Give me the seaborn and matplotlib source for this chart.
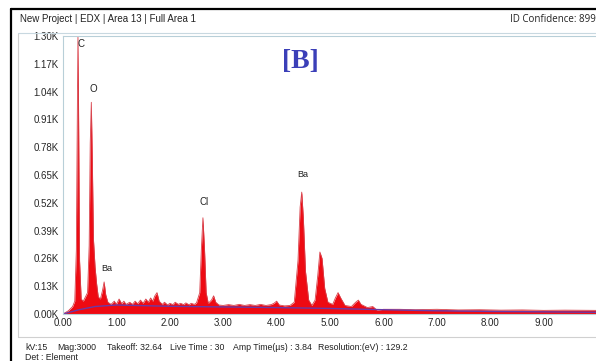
import numpy as np
import pandas as pd
import matplotlib
matplotlib.use('Agg')
import matplotlib.pyplot as plt
import seaborn as sns

# Spectrum: energy (keV) and counts (K)
energy = [0.00, 0.10, 0.18, 0.22, 0.25, 0.27, 0.28, 0.29, 0.31, 0.34, 0.38, 0.42,
          0.46, 0.49, 0.51, 0.53, 0.55, 0.57, 0.60, 0.63, 0.66, 0.70, 0.74, 0.77,
          0.80, 0.84, 0.90, 0.96, 1.00, 1.05, 1.10, 1.14, 1.18, 1.25, 1.30, 1.35,
          1.40, 1.45, 1.50, 1.55, 1.60, 1.64, 1.68, 1.72, 1.76, 1.80, 1.86, 1.90,
          1.96, 2.00, 2.06, 2.10, 2.16, 2.20, 2.26, 2.30, 2.36, 2.40, 2.46, 2.50,
          2.56, 2.59, 2.62, 2.65, 2.68, 2.72, 2.78, 2.82, 2.86, 2.92, 3.00, 3.10,
          3.20, 3.30, 3.40, 3.50, 3.60, 3.70, 3.80, 3.90, 3.95, 4.00, 4.05, 4.15,
          4.25, 4.33, 4.40, 4.44, 4.47, 4.50, 4.54, 4.60, 4.66, 4.72, 4.77, 4.81,
          4.85, 4.90, 4.96, 5.05, 5.10, 5.15, 5.20, 5.28, 5.40, 5.48, 5.53, 5.58,
          5.70, 5.80, 5.88, 6.00, 6.30, 6.60, 7.00, 7.40, 7.80, 8.20, 8.60, 9.00,
          9.40, 9.98]
counts = [0.000, 0.015, 0.035, 0.060, 0.300, 1.000, 1.300, 1.000, 0.250, 0.070, 0.060, 0.080,
          0.100, 0.320, 0.800, 0.990, 0.700, 0.350, 0.220, 0.140, 0.080, 0.070, 0.110, 0.150,
          0.090, 0.055, 0.045, 0.060, 0.045, 0.070, 0.048, 0.060, 0.045, 0.055, 0.045, 0.060,
          0.048, 0.065, 0.050, 0.070, 0.055, 0.075, 0.060, 0.085, 0.100, 0.060, 0.045, 0.055,
          0.042, 0.050, 0.044, 0.055, 0.045, 0.050, 0.044, 0.052, 0.043, 0.050, 0.045, 0.052,
          0.100, 0.300, 0.450, 0.300, 0.100, 0.050, 0.065, 0.085, 0.055, 0.042, 0.040, 0.044,
          0.040, 0.045, 0.040, 0.044, 0.040, 0.045, 0.040, 0.044, 0.050, 0.060, 0.042, 0.038,
          0.040, 0.055, 0.250, 0.500, 0.570, 0.450, 0.200, 0.065, 0.040, 0.065, 0.180, 0.290,
          0.260, 0.120, 0.055, 0.045, 0.075, 0.100, 0.075, 0.040, 0.035, 0.055, 0.065, 0.045,
          0.030, 0.035, 0.018, 0.022, 0.022, 0.020, 0.022, 0.019, 0.020, 0.018, 0.019, 0.017,
          0.018, 0.017]

# Background fit line
bg_energy = [0.0, 0.3, 0.6, 1.0, 2.0, 3.0, 4.0, 5.0, 6.0, 7.0, 8.0, 9.0, 9.98]
bg_counts = [0.000, 0.020, 0.035, 0.042, 0.036, 0.033, 0.030, 0.026, 0.020, 0.015, 0.012, 0.010, 0.008]

# Element labels
labels = ['C', 'O', 'Ba', 'Cl', 'Ba']
label_x = [0.33, 0.57, 0.81, 2.64, 4.49]
label_y = [1.24, 1.03, 0.19, 0.50, 0.63]
label_size = [7, 7, 6.5, 7, 6.5]

yticks = [0.00, 0.13, 0.26, 0.39, 0.52, 0.65, 0.78, 0.91, 1.04, 1.17, 1.30]
xticks = [0, 1, 2, 3, 4, 5, 6, 7, 8, 9]

# acquisition info along the bottom, with pixel x of each item
info_text = ['kV:15', 'Mag:3000', 'Takeoff: 32.64', 'Live Time : 30',
             'Amp Time(\u00b5s) : 3.84', 'Resolution:(eV) : 129.2']
info_x = [25, 57, 107, 170, 233, 318]

spec = pd.DataFrame({'energy': energy, 'counts': counts})
bg = pd.DataFrame({'energy': bg_energy, 'counts': bg_counts})

sns.set_style('white')
plt.rcParams['font.family'] = ['Liberation Sans Narrow', 'Liberation Sans', 'DejaVu Sans']

fig = plt.figure(figsize=(5.96, 3.61), dpi=100)

# panel borders
fig.add_artist(plt.Line2D([11/596, 11/596], [0, 1 - 9/361], color='black', lw=1.6))
fig.add_artist(plt.Line2D([11/596, 1], [1 - 9/361, 1 - 9/361], color='black', lw=1.6))
fig.add_artist(plt.Line2D([18/596, 18/596], [1 - 337/361, 1 - 33/361], color='#d0d0d0', lw=0.8))
fig.add_artist(plt.Line2D([18/596, 1], [1 - 33/361, 1 - 33/361], color='#c8d8e0', lw=0.8))
fig.add_artist(plt.Line2D([18/596, 1], [1 - 337/361, 1 - 337/361], color='#d0d0d0', lw=0.8))

ax = fig.add_axes([63/596, 1 - 314/361, 1 - 63/596, (314 - 36)/361])
ax.fill_between(spec['energy'], spec['counts'], color='#ee0a12', lw=0)
sns.lineplot(data=spec, x='energy', y='counts', ax=ax, color='#d8404a', lw=0.6)
sns.lineplot(data=bg, x='energy', y='counts', ax=ax, color='#6a3aa8', lw=1.0)

for t, x, y, s in zip(labels, label_x, label_y, label_size):
    ax.text(x, y, t, fontsize=s, ha='center', va='bottom', color='#222222')

ax.set_xlim(0, 9.98)
ax.set_ylim(0, 1.30)
ax.set_xticks(xticks)
ax.set_xticklabels([f'{v:.2f}' for v in xticks], fontsize=7)
ax.set_yticks(yticks)
ax.set_yticklabels([f'{v:.2f}K' for v in yticks], fontsize=7)
ax.tick_params(length=2, width=0.5, color='#9ab', pad=1)
ax.set_xlabel('')
ax.set_ylabel('')
for side in ['left', 'bottom', 'top']:
    ax.spines[side].set_color('#b8cfd8')
    ax.spines[side].set_linewidth(0.8)
ax.spines['right'].set_visible(False)

fig.text(20/596, 1 - 19/361, 'New Project | EDX | Area 13 | Full Area 1', fontsize=7,
         va='center', ha='left', color='#222222')
fig.text(1.0, 1 - 20/361, 'ID Confidence: 899', fontsize=7, va='center', ha='right',
         color='#222222', family=['Open Sans', 'DejaVu Sans'])
fig.text(300/596, 1 - 62/361, '[B]', fontsize=20, fontweight='bold', color='#3b3fb8',
         family=['Liberation Serif', 'DejaVu Serif'], ha='center', va='center')
for t, x in zip(info_text, info_x):
    fig.text(x/596, 1 - 347/361, t, fontsize=6.3, va='center', ha='left', color='#222222')
fig.text(25/596, 1 - 357/361, 'Det : Element', fontsize=6.3, va='center', ha='left', color='#222222')

fig.savefig('out.png', dpi=100)
